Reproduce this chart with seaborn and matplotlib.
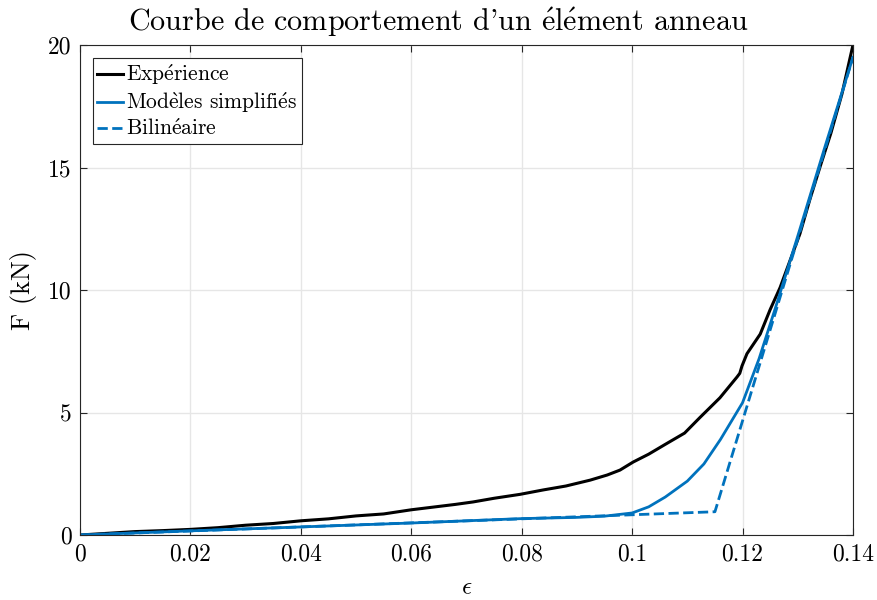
import seaborn as sns
import pandas as pd
import matplotlib.pyplot as plt

eps_exp = [0, 0.005, 0.01, 0.015, 0.02, 0.025, 0.03, 0.035, 0.04, 0.045, 0.05,
           0.055, 0.06, 0.064, 0.068, 0.0712, 0.075, 0.0797, 0.0839, 0.088,
           0.0924, 0.0955, 0.0978, 0.1002, 0.103, 0.106, 0.1095, 0.1123, 0.1159,
           0.119, 0.1195, 0.1199, 0.1208, 0.1232, 0.125, 0.1268, 0.1286, 0.1304,
           0.1322, 0.134, 0.136, 0.138, 0.14]
F_exp = [0, 0.07, 0.14, 0.18, 0.23, 0.3, 0.4, 0.47, 0.58, 0.66, 0.78,
         0.86, 1.03, 1.14, 1.25, 1.35, 1.5, 1.66, 1.84, 2.0,
         2.24, 2.45, 2.65, 2.98, 3.3, 3.7, 4.16, 4.8, 5.6,
         6.45, 6.6, 6.9, 7.4, 8.2, 9.2, 10.1, 11.2, 12.3,
         13.7, 15.0, 16.4, 18.0, 20.0]

# modele simplifie
eps_mod = [0, 0.02, 0.04, 0.06, 0.08, 0.09, 0.095, 0.1, 0.103, 0.106, 0.11,
           0.113, 0.116, 0.12, 0.123, 0.126, 0.13, 0.135, 0.14]
F_mod = [0, 0.17, 0.33, 0.49, 0.67, 0.72, 0.77, 0.9, 1.15, 1.55, 2.2,
         2.9, 3.9, 5.4, 7.2, 9.3, 12.2, 15.9, 19.5]

# modele bilineaire
eps_bil = [0, 0.115, 0.14]
F_bil = [0, 0.95, 19.5]

bleu = '#0072BD'

# accents en mathtext (cmr10 n'a pas les lettres accentuees)
e_aigu = r'$\mathrm{\acute{e}}$'
e_grave = r'$\mathrm{\grave{e}}$'

plt.rcParams['font.family'] = ['cmr10', 'DejaVu Serif']
plt.rcParams['mathtext.fontset'] = 'cm'
plt.rcParams['axes.formatter.use_mathtext'] = True

fig = plt.figure(figsize=(8.77, 6), dpi=100)
ax = fig.add_axes([0.0912, 0.1083, 0.8814, 0.8167])

df_exp = pd.DataFrame({'eps': eps_exp, 'F': F_exp})
df_mod = pd.DataFrame({'eps': eps_mod, 'F': F_mod})
df_bil = pd.DataFrame({'eps': eps_bil, 'F': F_bil})

sns.lineplot(data=df_exp, x='eps', y='F', color='black', lw=2.2, sort=False,
             estimator=None, label='Exp' + e_aigu + 'rience', ax=ax)
sns.lineplot(data=df_mod, x='eps', y='F', color=bleu, lw=2, sort=False,
             estimator=None, label='Mod' + e_grave + 'les simplifi' + e_aigu + 's', ax=ax)
sns.lineplot(data=df_bil, x='eps', y='F', color=bleu, lw=2, ls='--', sort=False,
             estimator=None, label='Bilin' + e_aigu + 'aire', ax=ax)

ax.set_xlim(0, 0.14)
ax.set_ylim(0, 20)
ax.set_xticks([0, 0.02, 0.04, 0.06, 0.08, 0.1, 0.12, 0.14])
ax.set_xticklabels(['0', '0.02', '0.04', '0.06', '0.08', '0.1', '0.12', '0.14'])
ax.set_yticks([0, 5, 10, 15, 20])
ax.set_yticklabels(['0', '5', '10', '15', '20'])
ax.grid(True, color='#e6e6e6', lw=1)
ax.set_axisbelow(True)
for s in ax.spines.values():
    s.set_color('#262626')
    s.set_linewidth(0.8)
ax.tick_params(direction='in', top=True, right=True, labelsize=17,
               color='#262626', length=5, pad=6)

ax.set_title("Courbe de comportement d'un " + e_aigu + 'l' + e_aigu + 'ment anneau',
             fontsize=21.7, pad=10, x=0.4637)
ax.set_xlabel(r'$\epsilon$', fontsize=18, labelpad=8)
ax.set_ylabel('F (kN)', fontsize=19, labelpad=8)

leg = ax.legend(loc='upper left', fontsize=15.5, handlelength=1.2, handletextpad=0.15,
                borderpad=0.2, labelspacing=0.15, fancybox=False, framealpha=1,
                edgecolor='#262626', borderaxespad=0.6)
leg.get_frame().set_linewidth(0.8)

fig.savefig('out.png', dpi=100)
